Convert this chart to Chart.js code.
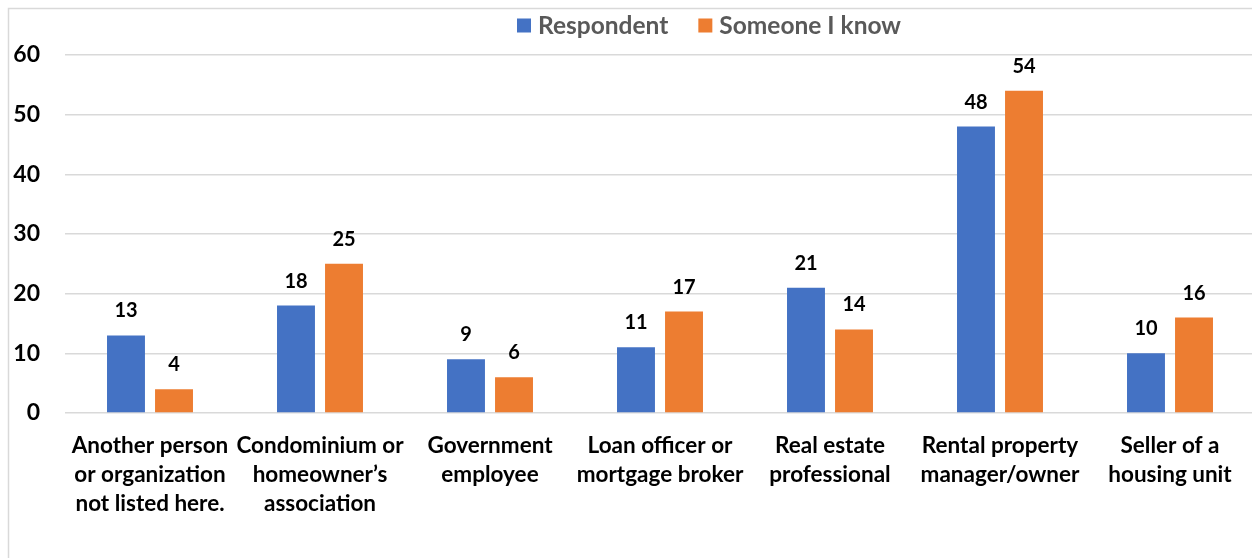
<!DOCTYPE html>
<html>
<head>
<meta charset="utf-8">
<script src="https://cdn.jsdelivr.net/npm/chart.js@4/dist/chart.umd.min.js"></script>
<style>
  html, body { margin: 0; padding: 0; background: #fff; overflow: hidden; }
  #wrap { position: absolute; left: 0; top: 0; width: 1258px; height: 558px; }
</style>
</head>
<body>
<div id="wrap"><canvas id="c"></canvas></div>
<script>
// Who the housing-related contact was, by respondent vs. someone they know
const categories = [
  ["Another person", "or organization", "not listed here."],
  ["Condominium or", "homeowner\u2019s", "association"],
  ["Government", "employee"],
  ["Loan officer or", "mortgage broker"],
  ["Real estate", "professional"],
  ["Rental property", "manager/owner"],
  ["Seller of a", "housing unit"]
];
const respondent = [13, 18, 9, 11, 21, 48, 10];
const someoneIKnow = [4, 25, 6, 17, 14, 54, 16];
const seriesNames = ["Respondent", "Someone I know"];
const yTicks = [0, 10, 20, 30, 40, 50, 60];

const FONT = "Lato, 'Open Sans', sans-serif";
const BLUE = "#4472C4";
const ORANGE = "#ED7D31";
const GRID = "#d9d9d9";

// Value labels above each bar
const valueLabels = {
  id: "valueLabels",
  afterDatasetsDraw(chart) {
    const ctx = chart.ctx;
    ctx.save();
    ctx.font = "bold 20px " + FONT;
    ctx.fillStyle = "#000";
    ctx.textAlign = "center";
    ctx.textBaseline = "alphabetic";
    chart.data.datasets.forEach((ds, i) => {
      chart.getDatasetMeta(i).data.forEach((bar, j) => {
        ctx.fillText(String(ds.data[j]), bar.x, bar.y - 18);
      });
    });
    ctx.restore();
  }
};

// Outer frame (top and left edges) and the series key at the top
const frameAndKey = {
  id: "frameAndKey",
  beforeDraw(chart) {
    const ctx = chart.ctx;
    ctx.save();
    ctx.strokeStyle = GRID;
    ctx.lineWidth = 1.5;
    ctx.beginPath();
    ctx.moveTo(8.5, chart.height);
    ctx.lineTo(8.5, 8.5);
    ctx.lineTo(chart.width, 8.5);
    ctx.stroke();
    ctx.restore();
  },
  afterDraw(chart) {
    const ctx = chart.ctx;
    ctx.save();
    ctx.font = "bold 24.5px " + FONT;
    ctx.textBaseline = "middle";
    ctx.textAlign = "left";
    let x = 517;
    const yMid = 25.5;
    chart.data.datasets.forEach((ds) => {
      ctx.fillStyle = ds.backgroundColor;
      ctx.fillRect(x, yMid - 7, 14, 14);
      ctx.fillStyle = "#595959";
      ctx.fillText(ds.label, x + 21, yMid + 1);
      x += 21 + ctx.measureText(ds.label).width + 30;
    });
    ctx.restore();
  }
};

new Chart(document.getElementById("c"), {
  type: "bar",
  data: {
    labels: categories,
    datasets: [
      { label: seriesNames[0], data: respondent, backgroundColor: BLUE },
      { label: seriesNames[1], data: someoneIKnow, backgroundColor: ORANGE }
    ]
  },
  options: {
    responsive: true,
    maintainAspectRatio: false,
    animation: false,
    events: [],
    layout: { padding: { top: 55, left: 0, right: 3, bottom: 0 } },
    datasets: { bar: { categoryPercentage: 0.565, barPercentage: 0.79 } },
    plugins: { legend: { display: false }, tooltip: { enabled: false } },
    scales: {
      x: {
        grid: { display: false },
        border: { display: false },
        ticks: {
          color: "#000",
          font: { family: FONT, size: 22.5, weight: "bold", lineHeight: "29px" },
          padding: 10,
          maxRotation: 0,
          autoSkip: false
        },
        afterFit(scale) { scale.height = 145; }
      },
      y: {
        min: 0,
        max: 60,
        afterBuildTicks(scale) { scale.ticks = yTicks.map(v => ({ value: v })); },
        grid: { color: GRID, lineWidth: 1.5, drawTicks: false },
        border: { display: false },
        ticks: {
          color: "#000",
          font: { family: FONT, size: 23, weight: "bold" },
          padding: 25
        },
        afterFit(scale) { scale.width = 65; }
      }
    }
  },
  plugins: [valueLabels, frameAndKey]
});
</script>
</body>
</html>
